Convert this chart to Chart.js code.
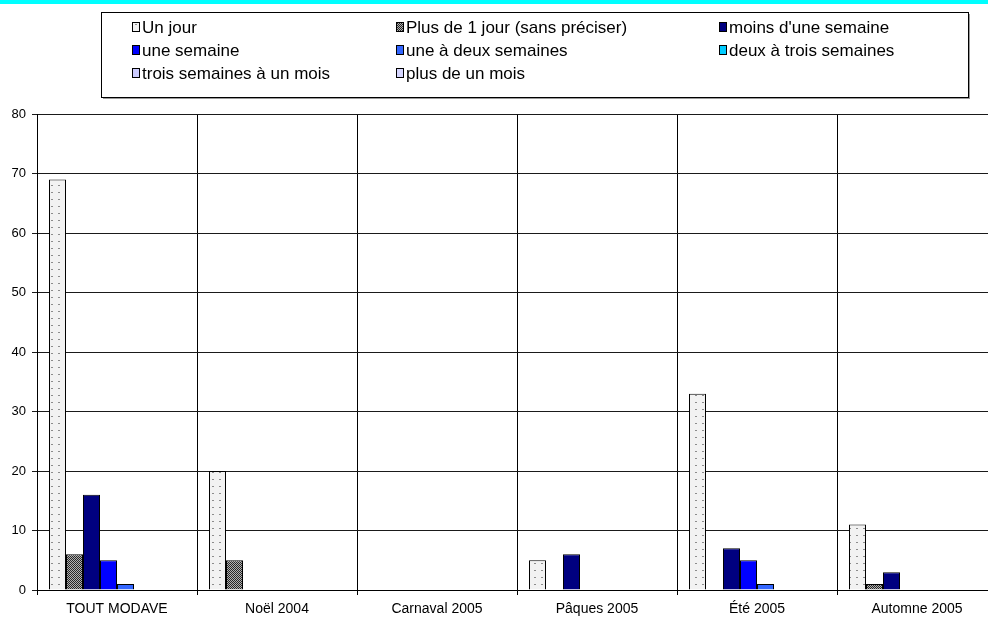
<!DOCTYPE html>
<html>
<head>
<meta charset="utf-8">
<script src="https://cdn.jsdelivr.net/npm/chart.js@4.4.0/dist/chart.umd.min.js"></script>
<style>
  html, body { margin: 0; padding: 0; background: #fff; overflow: hidden; }
  #wrap { position: relative; width: 1000px; height: 617px; }
</style>
</head>
<body>
<div id="wrap"><canvas id="dureeChart"></canvas></div>
<script>
// Categories (periods) and one array per duration series
const periods = ['TOUT MODAVE', 'Noël 2004', 'Carnaval 2005', 'Pâques 2005', 'Été 2005', 'Automne 2005'];

const seriesNames = [
    'Un jour', 'Plus de 1 jour (sans préciser)', "moins d'une semaine",
    'une semaine', 'une à deux semaines', 'deux à trois semaines',
    'trois semaines à un mois', 'plus de un mois'
];

const unJour        = [69, 20, 0, 5, 33, 11];
const plusDeUnJour  = [6, 5, 0, 0, 0, 1];
const moinsSemaine  = [16, 0, 0, 6, 7, 3];
const uneSemaine    = [5, 0, 0, 0, 5, 0];
const uneADeux      = [1, 0, 0, 0, 1, 0];
const deuxATrois    = [0, 0, 0, 0, 0, 0];
const troisAUnMois  = [0, 0, 0, 0, 0, 0];
const plusUnMois    = [0, 0, 0, 0, 0, 0];

const yTicks = [0, 10, 20, 30, 40, 50, 60, 70, 80];

// Small tiled fills like the old spreadsheet patterns
function makePattern(w, h, bg, fg, pixels) {
    const c = document.createElement('canvas');
    c.width = w; c.height = h;
    const g = c.getContext('2d');
    g.fillStyle = bg;
    g.fillRect(0, 0, w, h);
    g.fillStyle = fg;
    pixels.forEach(p => g.fillRect(p[0], p[1], p[2], p[3]));
    return g.createPattern(c, 'repeat');
}

const dotted = makePattern(7, 7, '#f2f2f2', '#8c8c8c', [[2, 3, 2, 1]]);
const checker = makePattern(2, 2, '#b0b0b0', '#262626', [[0, 0, 1, 1], [1, 1, 1, 1]]);

const fills = [dotted, checker, '#000080', '#0000ff', '#3366ff', '#00ccff', '#ccccff', '#d6d6ff'];
const values = [unJour, plusDeUnJour, moinsSemaine, uneSemaine, uneADeux, deuxATrois, troisAUnMois, plusUnMois];

// Legend box laid out in three columns, drawn on the canvas
const legendBox = { x: 101, y: 12, w: 867, h: 85 };
const legendCols = [132, 396, 719];
const legendRows = [27, 50, 73];

const frameLegend = {
    id: 'frameLegend',
    afterDraw(chart) {
        const ctx = chart.ctx;
        ctx.save();
        // cyan band at the very top
        ctx.fillStyle = '#00ffff';
        ctx.fillRect(0, 0, 1000, 4);

        // legend frame with a thin shadow
        ctx.fillStyle = '#9a9a9a';
        ctx.fillRect(legendBox.x + 2, legendBox.y + legendBox.h, legendBox.w, 2);
        ctx.fillRect(legendBox.x + legendBox.w, legendBox.y + 2, 2, legendBox.h);
        ctx.fillStyle = '#fff';
        ctx.fillRect(legendBox.x, legendBox.y, legendBox.w, legendBox.h);
        ctx.strokeStyle = '#000';
        ctx.lineWidth = 1;
        ctx.strokeRect(legendBox.x + 0.5, legendBox.y + 0.5, legendBox.w, legendBox.h);

        ctx.font = '17px "Liberation Sans", Arial, sans-serif';
        ctx.textBaseline = 'middle';
        ctx.textAlign = 'left';
        chart.data.datasets.forEach((ds, i) => {
            const x = legendCols[i % 3];
            const y = legendRows[Math.floor(i / 3)];
            ctx.fillStyle = ds.backgroundColor;
            ctx.fillRect(x, y - 5, 8, 10);
            ctx.strokeStyle = '#000';
            ctx.strokeRect(x + 0.5, y - 4.5, 7, 9);
            ctx.fillStyle = '#000';
            ctx.fillText(ds.label, x + 10, y + 1);
        });
        ctx.restore();
    }
};

const datasets = seriesNames.map((name, i) => ({
    label: name,
    data: values[i],
    backgroundColor: fills[i],
    borderColor: '#000',
    borderWidth: 1,
    borderSkipped: 'start',
    barPercentage: 1,
    categoryPercentage: 0.85
}));

new Chart(document.getElementById('dureeChart'), {
    type: 'bar',
    data: { labels: periods, datasets: datasets },
    options: {
        responsive: true,
        maintainAspectRatio: false,
        animation: false,
        devicePixelRatio: 1,
        layout: { padding: { top: 114, left: 0, right: 3, bottom: 0 } },
        plugins: {
            legend: { display: false },
            tooltip: { enabled: false }
        },
        scales: {
            x: {
                grid: { color: '#000', lineWidth: 1, offset: true, tickLength: 5, drawOnChartArea: true },
                border: { color: '#000', width: 1 },
                ticks: {
                    color: '#000',
                    padding: 6,
                    font: { family: '"Liberation Sans", Arial, sans-serif', size: 14 },
                    maxRotation: 0,
                    autoSkip: false
                },
                afterFit: s => { s.height = 27; }
            },
            y: {
                min: 0,
                max: 80,
                afterBuildTicks: s => { s.ticks = yTicks.map(v => ({ value: v })); },
                grid: { color: '#1a1a1a', lineWidth: 1, tickLength: 5 },
                border: { color: '#000', width: 1 },
                ticks: {
                    color: '#000',
                    padding: 6,
                    font: { family: '"Liberation Sans", Arial, sans-serif', size: 13 }
                },
                afterFit: s => { s.width = 37; }
            }
        }
    },
    plugins: [frameLegend]
});
</script>
</body>
</html>
